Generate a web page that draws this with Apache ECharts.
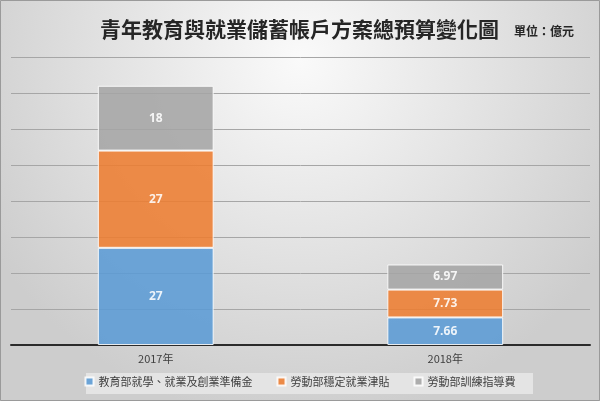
<!DOCTYPE html>
<html>
<head>
<meta charset="utf-8">
<script src="https://cdn.jsdelivr.net/npm/echarts@6/dist/echarts.min.js"></script>
<style>
  html, body { margin: 0; padding: 0; }
  #chart { width: 600px; height: 401px; }
</style>
</head>
<body>
<div id="chart"></div>
<script>
const years = ['2017年', '2018年'];
const seriesNames = ['教育部就學、就業及創業準備金', '勞動部穩定就業津貼', '勞動部訓練指導費'];
const eduFund = [27, 7.66];
const laborSubsidy = [27, 7.73];
const trainingFee = [18, 6.97];
const colors = ['#5b9bd5', '#ed7d31', '#a5a5a5'];

const chart = echarts.init(document.getElementById('chart'));

const barSeries = (name, data) => ({
  name: name,
  type: 'bar',
  stack: 'total',
  barWidth: '40%',
  data: data,
  itemStyle: { borderColor: '#ffffff', borderWidth: 1, opacity: 0.88 },
  label: {
    show: true,
    color: '#ffffff',
    fontWeight: 'bold',
    fontSize: 12,
    fontFamily: 'Open Sans'
  }
});

chart.setOption({
  backgroundColor: {
    type: 'radial', x: 0.5, y: 0.15, r: 0.9,
    colorStops: [
      { offset: 0, color: '#fafafa' },
      { offset: 1, color: '#cdcdcd' }
    ]
  },
  color: colors,
  graphic: [
    {
      type: 'rect',
      shape: { x: 0.5, y: 0.5, width: 599, height: 400 },
      style: { fill: 'none', stroke: '#9a9a9a', lineWidth: 1 }
    },
    {
      type: 'text', left: 100, top: 19,
      style: { text: '青年教育與就業儲蓄帳戶方案總預算變化圖', fontSize: 21, fontWeight: 'bold',
        fill: '#262626', fontFamily: 'Noto Sans CJK TC' }
    },
    {
      type: 'text', left: 514, top: 25,
      style: { text: '單位：億元', fontSize: 12, fontWeight: 'bold',
        fill: '#262626', fontFamily: 'Noto Sans CJK TC' }
    },
    {
      type: 'rect', z: -1,
      shape: { x: 86, y: 373, width: 447, height: 21 },
      style: { fill: '#e4e4e4' }
    }
  ],
  legend: {
    bottom: 9,
    left: 'center',
    itemWidth: 8,
    itemHeight: 8,
    itemGap: 24,
    icon: 'rect',
    textStyle: { fontSize: 11, color: '#404040', fontFamily: 'Noto Sans CJK TC' }
  },
  grid: { left: 11, right: 10, top: 57, bottom: 56 },
  xAxis: {
    type: 'category',
    data: years,
    axisTick: { show: false },
    axisLine: { lineStyle: { color: '#2b2b2b', width: 2 } },
    axisLabel: { color: '#404040', fontSize: 11, margin: 8, fontFamily: 'Noto Sans CJK TC' }
  },
  yAxis: {
    type: 'value',
    min: 0,
    max: 80,
    interval: 10,
    axisLabel: { show: false },
    axisLine: { show: false },
    splitLine: { lineStyle: { color: '#a6a6a6', width: 1 } }
  },
  series: [
    barSeries(seriesNames[0], eduFund),
    barSeries(seriesNames[1], laborSubsidy),
    barSeries(seriesNames[2], trainingFee)
  ]
});
</script>
</body>
</html>
